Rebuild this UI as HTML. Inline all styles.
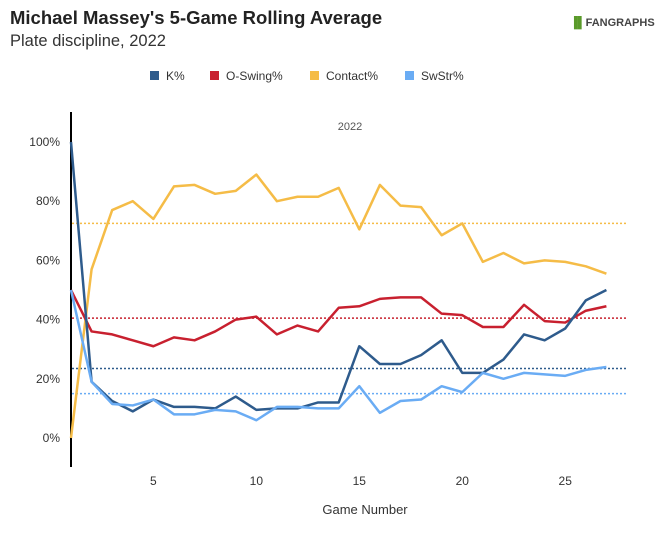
<!DOCTYPE html>
<html><head><meta charset="utf-8"><style>
body{margin:0;background:#fff;font-family:"Liberation Sans",sans-serif;}
#wrap{position:relative;width:666px;height:534px;overflow:hidden;}
</style></head><body>
<div id="wrap">
<div style="position:absolute;left:10px;top:7px;font-size:18.5px;font-weight:bold;color:#222;">Michael Massey's 5-Game Rolling Average</div>
<div style="position:absolute;left:10px;top:32px;font-size:16.5px;color:#333;">Plate discipline, 2022</div>
<div style="position:absolute;left:570px;top:17px;font-size:11px;font-weight:bold;color:#444;"><span style="color:#5a9a2a">▐▌</span>FANGRAPHS</div>
<svg id="chart" width="666" height="534" style="position:absolute;left:0;top:0"></svg>
</div>
<script>
const games=[];for(let i=1;i<=27;i++)games.push(i);
const kPct=[100,19,12.5,9,13,10.5,10.5,10,14,9.5,10,10,12,12,31,25,25,28,33,22,22,26.5,35,33,37,46.5,50];
const oSwing=[50,36,35,33,31,34,33,36,40,41,35,38,36,44,44.5,47,47.5,47.5,42,41.5,37.5,37.5,45,39.5,39,43,44.5];
const contact=[0,57,77,80,74,85,85.5,82.5,83.5,89,80,81.5,81.5,84.5,70.5,85.5,78.5,78,68.5,72.5,59.5,62.5,59,60,59.5,58,55.5];
const swStr=[50,19,11.5,11,13,8,8,9.5,9,6,10.5,10.5,10,10,17.5,8.5,12.5,13,17.5,15.5,22,20,22,21.5,21,23,24];
const averages=[23.5,40.5,72.5,15];
const seriesNames=["K%","O-Swing%","Contact%","SwStr%"];
const xTicks=[5,10,15,20,25];
const yTicks=[0,20,40,60,80,100];
const colors=["#2e5b8c","#c8202f","#f5bc47","#6aacf4"];
const svg=document.getElementById('chart');const NS='http://www.w3.org/2000/svg';
const X=g=>71+(g-1)*(556/27);
const Y=v=>438-v*2.96;
function el(t,a,p){const e=document.createElementNS(NS,t);for(const k in a)e.setAttribute(k,a[k]);(p||svg).appendChild(e);return e;}
let ax=el('line',{x1:71,x2:71,y1:112,y2:467,stroke:'#000','stroke-width':2});


yTicks.forEach(v=>{const t=el('text',{x:60,y:Y(v)+4,'text-anchor':'end','font-size':12,fill:'#333'});t.textContent=v+'%';

});
xTicks.forEach(v=>{const t=el('text',{x:X(v),y:485,'text-anchor':'middle','font-size':12,fill:'#333'});t.textContent=v;

});
let xt=el('text',{x:365,y:514,'text-anchor':'middle','font-size':13,fill:'#333'});xt.textContent='Game Number';


let yr=el('text',{x:350,y:130,'text-anchor':'middle','font-size':11,fill:'#555'});yr.textContent='2022';


const lx=[150,210,310,405];
seriesNames.forEach((n,i)=>{const g=el('g',{});


el('rect',{x:lx[i],y:71,width:9,height:9,fill:colors[i]},g);const t=el('text',{x:lx[i]+16,y:80,'font-size':12,fill:'#333'},g);t.textContent=n;});
averages.forEach((a,i)=>{const l=el('line',{x1:72,x2:628,y1:Y(a),y2:Y(a),stroke:colors[i],'stroke-width':1.5,'stroke-dasharray':'2,2'});

});
const data=[kPct,oSwing,contact,swStr];
[2,1,0,3].forEach(i=>{const p=el('polyline',{points:data[i].map((v,j)=>X(games[j])+','+Y(v)).join(' '),fill:'none',stroke:colors[i],'stroke-width':2.5,'stroke-linejoin':'round'});

});
</script>
</body></html>
